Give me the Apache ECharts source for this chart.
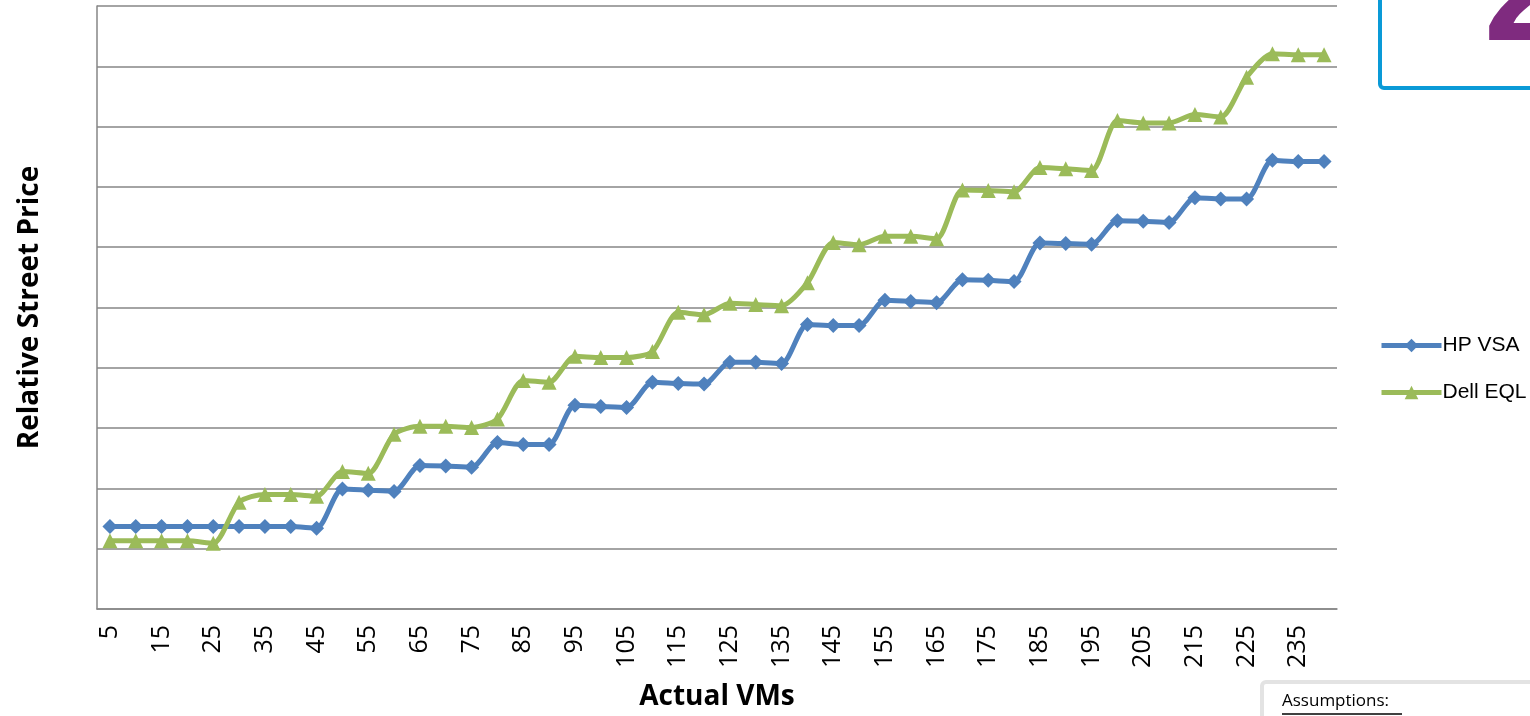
<!DOCTYPE html>
<html lang="en">
<head>
    <meta charset="UTF-8">
    <title>Relative Street Price</title>
    <script src="https://cdn.jsdelivr.net/npm/echarts@6/dist/echarts.min.js"></script>
    <style>
        html, body { margin: 0; padding: 0; background: #fff; }
    </style>
</head>
<body>
    <div id="main" style="width: 1530px;height:716px;"></div>

    <script type="text/javascript">

        // Actual VMs, 5 to 240
        var vms = ['5','10','15','20','25','30','35','40','45','50','55','60','65','70','75','80',
                   '85','90','95','100','105','110','115','120','125','130','135','140','145','150','155','160',
                   '165','170','175','180','185','190','195','200','205','210','215','220','225','230','235','240']

        // relative street price, in gridline units (no scale shown on the chart)
        var hpVsa = [1.37,1.37,1.37,1.37,1.37,1.37,1.37,1.37,1.34,1.99,1.97,1.95,2.38,2.37,2.35,2.76,
                     2.73,2.73,3.38,3.36,3.34,3.76,3.74,3.73,4.09,4.09,4.07,4.72,4.70,4.70,5.12,5.10,
                     5.08,5.46,5.45,5.43,6.07,6.06,6.05,6.44,6.43,6.41,6.82,6.80,6.80,7.44,7.42,7.42]

        var dellEql = [1.13,1.13,1.13,1.13,1.09,1.77,1.90,1.90,1.87,2.28,2.25,2.90,3.03,3.03,3.01,3.15,
                       3.79,3.76,4.19,4.17,4.17,4.27,4.92,4.88,5.07,5.05,5.03,5.41,6.08,6.04,6.18,6.18,
                       6.14,6.95,6.94,6.92,7.32,7.30,7.27,8.10,8.06,8.06,8.20,8.16,8.82,9.21,9.19,9.19]

        var myChart = echarts.init(document.getElementById('main'));

        var option = {
            animation: false,
            textStyle: { fontFamily: 'Open Sans' },
            grid: { left: 97, right: 193, top: 6, bottom: 106, containLabel: false },
            legend: {
                orient: 'vertical',
                left: 1374,
                top: 330,
                itemGap: 26,
                itemWidth: 60,
                itemHeight: 17,
                lineStyle: { width: 5 },
                textStyle: { fontSize: 21, color: '#000', fontFamily: 'Liberation Sans', padding: [0, 0, 0, -4] },
                data: ['HP VSA', 'Dell EQL']
            },
            xAxis: {
                type: 'category',
                data: vms,
                name: 'Actual VMs',
                nameLocation: 'middle',
                nameGap: 74,
                nameTextStyle: { fontSize: 28, fontWeight: 'bold', color: '#000', fontFamily: 'Open Sans' },
                axisLine: { lineStyle: { color: '#868686', width: 1.5 } },
                axisTick: { show: false },
                axisLabel: { interval: 1, rotate: 90, fontSize: 25, color: '#000', margin: 16, fontFamily: 'Open Sans' }
            },
            yAxis: {
                type: 'value',
                min: 0,
                max: 10,
                interval: 1,
                name: 'Relative Street Price',
                nameLocation: 'middle',
                nameGap: 53,
                nameTextStyle: { fontSize: 28, fontWeight: 'bold', color: '#000', fontFamily: 'Open Sans' },
                axisLine: { show: true, lineStyle: { color: '#868686', width: 1.5 } },
                axisTick: { show: false },
                axisLabel: { show: false },
                splitLine: { lineStyle: { color: '#868686', width: 1.5 } }
            },
            series: [{
                name: 'HP VSA',
                type: 'line',
                data: hpVsa,
                smooth: 0.25,
                symbol: 'diamond',
                symbolSize: 15,
                lineStyle: { width: 5, color: '#4F81BD' },
                itemStyle: { color: '#4F81BD' }
            }, {
                name: 'Dell EQL',
                type: 'line',
                data: dellEql,
                smooth: 0.25,
                symbol: 'triangle',
                symbolSize: 15,
                lineStyle: { width: 5, color: '#9BBB59' },
                itemStyle: { color: '#9BBB59' }
            }],
            graphic: [{
                type: 'text',
                left: 1484,
                top: -76,
                style: { text: '2', fontSize: 150, fontWeight: 'bold', fill: '#7F2B7F', fontFamily: 'Liberation Sans' }
            }, {
                type: 'rect',
                shape: { x: 1380, y: -20, width: 200, height: 108, r: 4 },
                style: { fill: 'none', stroke: '#0A9AD7', lineWidth: 4 }
            }, {
                type: 'rect',
                shape: { x: 1262, y: 682, width: 300, height: 60, r: 4 },
                style: { fill: '#fff', stroke: '#E3E3E3', lineWidth: 4 }
            }, {
                type: 'text',
                left: 1282,
                top: 693,
                style: { text: 'Assumptions:', fontSize: 17, fill: '#000', fontFamily: 'Open Sans' }
            }, {
                type: 'line',
                shape: { x1: 1282, y1: 714, x2: 1402, y2: 714 },
                style: { stroke: '#000', lineWidth: 1.5 }
            }]
        };
        myChart.setOption(option);
    </script>
</body>
</html>
